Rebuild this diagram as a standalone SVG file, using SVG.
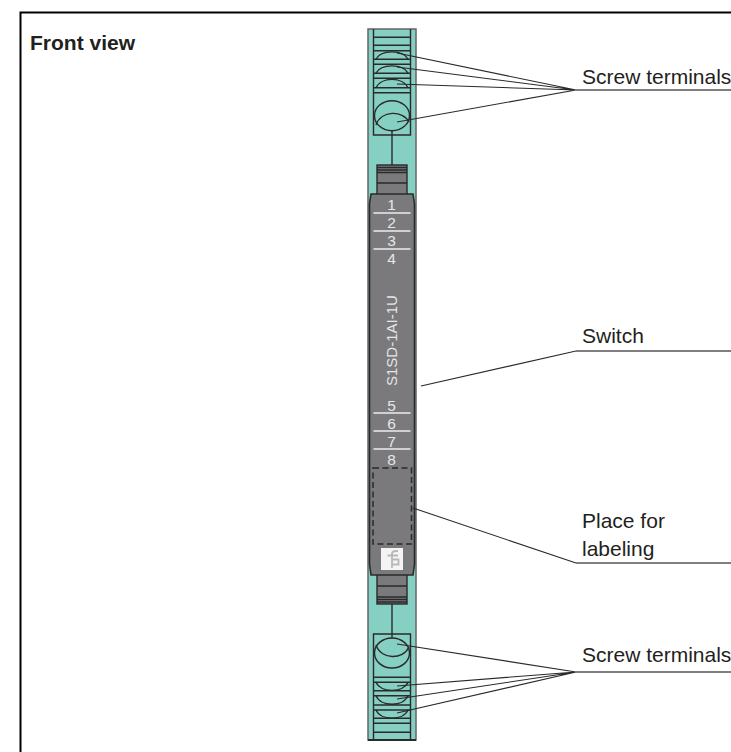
<svg xmlns="http://www.w3.org/2000/svg" width="731" height="752" viewBox="0 0 731 752">
<style>
text{font-family:"Liberation Sans",Arial,sans-serif;fill:#231f20}
.lbl{font-size:21px}
.num{font-size:15.500px;fill:#e6e6e6;text-anchor:middle}
.k{fill:none;stroke:#2b2a2a;stroke-width:1.400}
.l{fill:none;stroke:#2b2a2a;stroke-width:1.100}
.u{fill:none;stroke:#555;stroke-width:1.400}
.w{stroke:#eee;stroke-width:1.400}
.b{fill:#7a7a7c;stroke:#2b2a2a;stroke-width:1.400}
</style>
<rect width="731" height="752" fill="#fff"/>
<path id="frame" d="M20.500 752V12.500H731" fill="none" stroke="#000" stroke-width="2"/>
<text id="title" x="30" y="50" style="font-size:21px;font-weight:700">Front view</text>
<g id="housing">
<rect x="368" y="29" width="48" height="711" fill="#85cfc3" stroke="#666" stroke-width="1.500"/>
<path d="M368 740H416" stroke="#2b2a2a" stroke-width="1.800"/>
</g>
<g id="terminal-top">
<path class="k" d="M373.500 29V135H410.500V29M373.500 37.300H410.500M373.500 45.300H410.500M373.500 50.700H410.500M373.500 59.300H410.500M373.500 64.300H410.500M373.500 73.300H410.500M373.500 78.300H410.500M373.500 87.700H410.500M373.500 92.700H410.500"/>
<path class="k" d="M376 59C381 49.500 403 49.500 408 59M376 73C381 63.500 403 63.500 408 73M376 88C381 76.500 403 76.500 408 88"/>
<ellipse class="k" cx="392" cy="115.700" rx="17.500" ry="15"/>
<path class="k" d="M376 125C381 110 403 110 409 122"/>
<path class="k" d="M392 131V165"/>
</g>
<g id="terminal-bottom">
<path class="k" d="M373.500 740V634H410.500V740M373.500 677.300H410.500M373.500 682.300H410.500M373.500 690.700H410.500M373.500 695.700H410.500M373.500 705H410.500M373.500 710H410.500M373.500 718.300H410.500M373.500 723.300H410.500M373.500 732.300H410.500"/>
<path class="k" d="M376 682.300C381 693 403 693 408 682.300M376 695.700C381 707 403 707 408 695.700M376 710C381 721 403 721 408 710"/>
<ellipse class="k" cx="392" cy="653" rx="17.500" ry="15"/>
<path class="k" d="M376 645C381 660 403 660 409 647"/>
<path class="k" d="M392 604V638"/>
</g>
<g id="switch">
<rect class="b" x="377" y="165" width="30" height="30"/>
<path class="k" d="M377 167.500H407M377 170H407M377 172.500H407M377 183H407"/>
<rect class="b" x="377" y="574" width="30" height="30"/>
<path class="k" d="M377 586H407M377 597H407M377 599.500H407M377 602H407"/>
<path d="M371 194H413L414.500 204V564L413 575H371L369.500 564V204Z" fill="#7a7a7c" stroke="#2b2a2a" stroke-width="1.600"/>
<text class="num" x="391.500" y="210">1</text><path class="w" d="M373.500 213H410.500"/>
<text class="num" x="391.500" y="228">2</text><path class="w" d="M373.500 231H410.500"/>
<text class="num" x="391.500" y="246">3</text><path class="w" d="M373.500 249H410.500"/>
<text class="num" x="391.500" y="264">4</text>
<text transform="translate(396.500 386) rotate(-90)" style="font-size:15px;fill:#e6e6e6">S1SD-1AI-1U</text>
<text class="num" x="391.500" y="410.500">5</text><path class="w" d="M373.500 413H410.500"/>
<text class="num" x="391.500" y="428.500">6</text><path class="w" d="M373.500 431H410.500"/>
<text class="num" x="391.500" y="446.500">7</text><path class="w" d="M373.500 449H410.500"/>
<text class="num" x="391.500" y="464.500">8</text>
<rect x="373" y="468" width="38.500" height="76" fill="none" stroke="#2b2a2a" stroke-width="1.500" stroke-dasharray="6 3.500"/>
<rect x="381" y="548" width="22" height="22" fill="#f4f4f4"/>
<path d="M392 568V554Q392 551 396 551H398M387.500 555.500H398M392 559.500H398.500V564.500H392" fill="none" stroke="#b8b8ba" stroke-width="1.800"/>
</g>
<g id="connectors">
<path class="l" d="M397 53L576 90M397 67L576 90M397 84L576 90M397 122L576 90"/>
<path class="u" d="M576 90H731"/>
<path class="l" d="M421 386L576 351"/>
<path class="u" d="M576 351H731"/>
<path class="l" d="M413 508L576 563"/>
<path class="u" d="M576 563H731"/>
<path class="l" d="M397 644L576 672M397 686L576 672M397 699L576 672M397 713L576 672"/>
<path class="u" d="M576 672H731"/>
</g>
<g id="labels">
<text class="lbl" x="582" y="84">Screw terminals</text>
<text class="lbl" x="582" y="343">Switch</text>
<text class="lbl" x="582" y="528">Place for</text>
<text class="lbl" x="582" y="556">labeling</text>
<text class="lbl" x="582" y="662">Screw terminals</text>
</g>
</svg>
